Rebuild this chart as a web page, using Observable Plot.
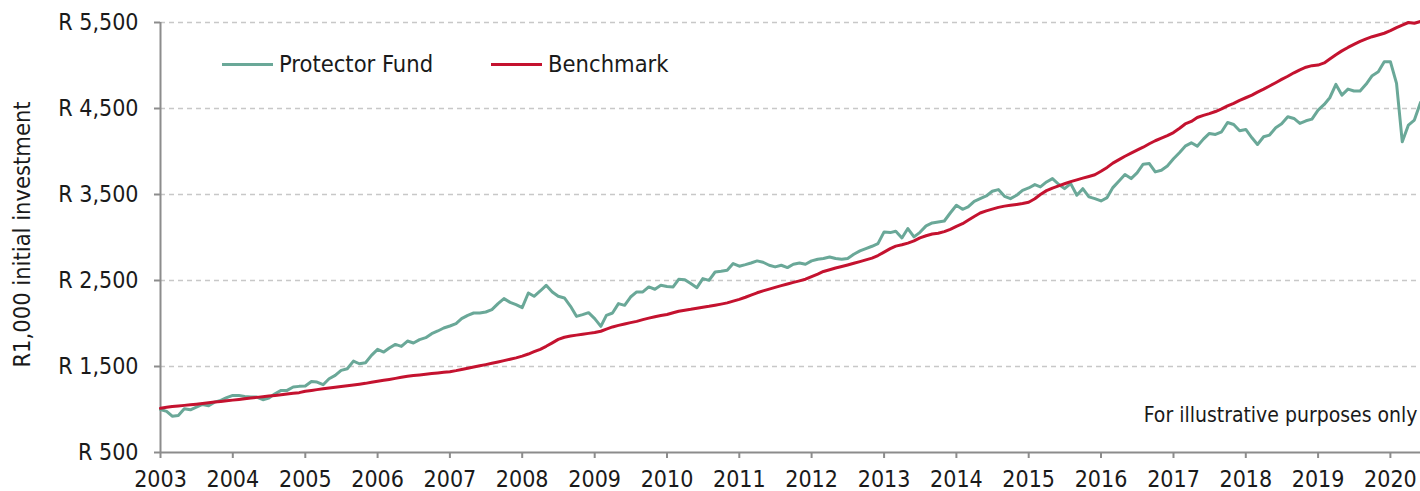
<!DOCTYPE html>
<html>
<head>
<meta charset="utf-8">
<script src="https://cdn.jsdelivr.net/npm/d3@7"></script>
<script src="https://cdn.jsdelivr.net/npm/@observablehq/plot@0.6"></script>
<style>
  html, body { margin: 0; padding: 0; background: #fff; }
  #wrap { position: relative; width: 1420px; height: 491px; font-family: "DejaVu Sans Condensed", "DejaVu Sans", sans-serif; font-stretch: condensed; }
  #legend { position: absolute; left: 222px; top: 64px; transform: translateY(-50%); display: flex; align-items: center; font-size: 23.5px; color: #1a1a1a; }
  .item { display: flex; align-items: center; }
  .swatch { display: inline-block; width: 51px; height: 3px; margin-right: 6px; }
</style>
</head>
<body>
<div id="wrap"><div id="legend"></div></div>
<script>
// ---- data (monthly, Jan 2003 .. Jun 2020) ----
const seriesNames = ["Protector Fund", "Benchmark"];
const seriesColors = ["#6aa898", "#c4122f"];
const startYear = 2003;
const fundValues = [
  1000,978,922,930,1009,997,1028,1059,1044,1086,1105,1137,
  1164,1164,1152,1145,1145,1114,1133,1183,1222,1222,1261,1269,
  1273,1326,1319,1288,1358,1396,1455,1474,1563,1532,1544,1629,
  1699,1668,1715,1757,1734,1796,1773,1812,1835,1882,1913,1948,
  1971,1998,2056,2095,2122,2122,2134,2161,2231,2289,2246,2219,
  2184,2355,2316,2378,2444,2367,2316,2297,2200,2083,2103,2126,
  2056,1967,2095,2122,2231,2211,2308,2367,2367,2425,2398,2444,
  2430,2425,2514,2510,2464,2417,2522,2502,2599,2607,2619,2697,
  2666,2685,2704,2728,2712,2677,2658,2677,2650,2689,2704,2689,
  2728,2747,2755,2774,2755,2747,2755,2805,2844,2871,2898,2929,
  3065,3057,3073,2995,3104,3007,3060,3135,3169,3181,3192,3285,
  3375,3328,3355,3421,3452,3483,3538,3557,3479,3452,3491,3549,
  3576,3615,3588,3646,3685,3619,3568,3627,3491,3568,3472,3452,
  3425,3464,3580,3658,3732,3685,3751,3852,3860,3763,3782,3832,
  3915,3989,4062,4101,4062,4144,4210,4198,4229,4337,4314,4241,
  4256,4159,4081,4171,4191,4276,4322,4404,4384,4326,4357,4376,
  4481,4547,4625,4780,4656,4726,4703,4703,4784,4881,4927,5044,
  5044,4792,4113,4307,4365,4571
];
const benchmarkValues = [
  1015,1025,1035,1042,1048,1055,1062,1070,1078,1086,1093,1101,
  1109,1117,1125,1133,1141,1148,1156,1164,1172,1180,1188,1196,
  1212,1222,1231,1240,1249,1258,1267,1276,1285,1294,1304,1316,
  1328,1340,1350,1362,1374,1386,1395,1402,1410,1418,1425,1432,
  1440,1452,1466,1480,1494,1508,1522,1537,1552,1568,1585,1600,
  1620,1645,1672,1700,1735,1775,1815,1840,1855,1865,1875,1885,
  1895,1910,1935,1960,1978,1995,2010,2025,2045,2062,2078,2092,
  2105,2125,2142,2155,2165,2178,2190,2200,2212,2225,2240,2260,
  2280,2305,2330,2357,2380,2400,2420,2440,2460,2478,2496,2515,
  2545,2575,2605,2625,2645,2662,2680,2700,2720,2740,2760,2790,
  2830,2870,2900,2915,2935,2960,2995,3020,3040,3050,3068,3095,
  3130,3160,3200,3245,3285,3310,3330,3350,3365,3375,3385,3395,
  3410,3450,3500,3545,3575,3600,3625,3650,3670,3690,3710,3730,
  3770,3815,3865,3905,3945,3980,4015,4050,4090,4125,4155,4185,
  4220,4270,4320,4350,4395,4420,4440,4465,4495,4530,4560,4595,
  4625,4655,4690,4725,4762,4800,4838,4875,4915,4950,4980,4998,
  5005,5030,5075,5125,5170,5210,5245,5280,5310,5335,5355,5375,
  5405,5440,5470,5500,5492,5512
];
const yTicks = [500, 1500, 2500, 3500, 4500, 5500];
const xTickYears = [2003,2004,2005,2006,2007,2008,2009,2010,2011,2012,2013,2014,2015,2016,2017,2018,2019,2020];
const yTitle = "R1,000 initial investment";
const note = "For illustrative purposes only";

// ---- build table ----
const start = new Date(Date.UTC(startYear, 0, 1));
const rows = [];
fundValues.forEach((v, i) => rows.push({date: d3.utcMonth.offset(start, i), value: v, series: seriesNames[0]}));
benchmarkValues.forEach((v, i) => rows.push({date: d3.utcMonth.offset(start, i), value: v, series: seriesNames[1]}));
const end = d3.utcMonth.offset(start, fundValues.length - 1);
const xTicks = xTickYears.map(y => new Date(Date.UTC(y, 0, 1)));
const fmt = d3.format(",");

const chart = Plot.plot({
  width: 1420,
  height: 491,
  marginLeft: 160,
  marginRight: 0,
  marginTop: 22,
  marginBottom: 39,
  style: {fontFamily: '"DejaVu Sans Condensed", "DejaVu Sans", sans-serif', fontSize: "23px", color: "#1a1a1a", background: "#fff", fontStretch: "condensed"},
  x: {type: "utc", domain: [start, end], axis: null},
  y: {domain: [500, 5500], axis: null},
  color: {domain: seriesNames, range: seriesColors},
  marks: [
    Plot.gridY(yTicks.slice(1), {stroke: "#c8c8c8", strokeOpacity: 1, strokeWidth: 1.5, strokeDasharray: "5,4"}),
    Plot.ruleY([500], {stroke: "#8c8c8c", strokeWidth: 2}),
    Plot.ruleX([start], {y1: 500, y2: 5500, stroke: "#8c8c8c", strokeWidth: 2}),
    Plot.axisY(yTicks, {tickSize: 6, tickPadding: 16, tickFormat: d => "R " + fmt(d), stroke: "#8c8c8c", strokeWidth: 2, fill: "#1a1a1a", label: null}),
    Plot.axisX(xTicks, {tickSize: 6, tickPadding: 12, tickFormat: d3.utcFormat("%Y"), stroke: "#8c8c8c", strokeWidth: 2, fill: "#1a1a1a", label: null}),
    Plot.line(rows, {x: "date", y: "value", z: "series", stroke: "series", strokeWidth: 3, strokeLinejoin: "round"}),
    Plot.text([yTitle], {frameAnchor: "left", dx: -138, dy: -3, rotate: -90, textAnchor: "middle", lineAnchor: "middle", fill: "#1a1a1a", fontSize: 23.5}),
    Plot.text([note], {frameAnchor: "bottom-right", dx: -3, dy: -37, textAnchor: "end", lineAnchor: "middle", fill: "#1a1a1a", fontSize: 21})
  ]
});
const wrap = document.getElementById("wrap");
wrap.insertBefore(chart, wrap.firstChild);

const legend = document.getElementById("legend");
seriesNames.forEach((name, i) => {
  const item = document.createElement("div");
  item.className = "item";
  if (i > 0) item.style.marginLeft = "58px";
  const sw = document.createElement("span");
  sw.className = "swatch";
  sw.style.background = seriesColors[i];
  const t = document.createElement("span");
  t.textContent = name;
  item.appendChild(sw);
  item.appendChild(t);
  legend.appendChild(item);
});
</script>
</body>
</html>
